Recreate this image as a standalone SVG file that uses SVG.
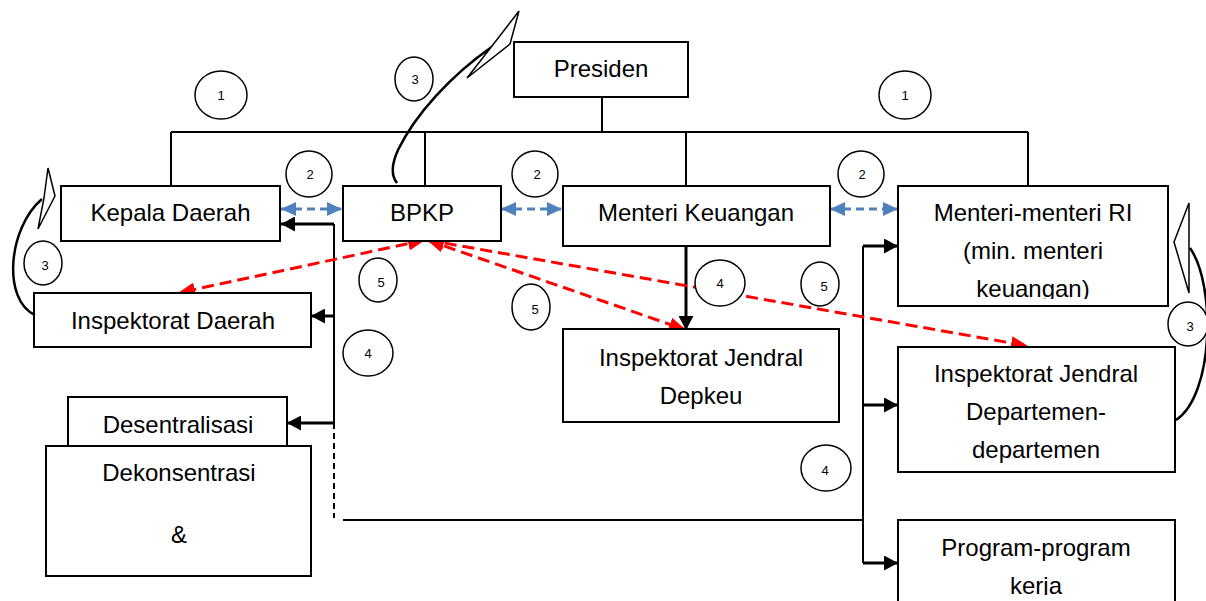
<svg xmlns="http://www.w3.org/2000/svg" width="1206" height="601" viewBox="0 0 1206 601">
<style>
.box{fill:#fff;stroke:#000;stroke-width:2}
.lbl{font-family:"Liberation Sans",Arial,sans-serif;font-size:24px;fill:#000;text-anchor:middle}
.num{font-family:"Liberation Sans",Arial,sans-serif;font-size:13px;fill:#000;text-anchor:middle}
.circ{fill:#fff;stroke:#000;stroke-width:1.5}
.org{fill:none;stroke:#000;stroke-width:2}
.blk{fill:none;stroke:#000;stroke-width:3}
.blue{fill:none;stroke:#4f81bd;stroke-width:3;stroke-dasharray:8 5}
.red{fill:none;stroke:#ff0000;stroke-width:3;stroke-dasharray:12 6}
.crv{fill:none;stroke:#000;stroke-width:2.5}
.head{fill:#fff;stroke:#000;stroke-width:1.5;stroke-linejoin:miter}
</style>
<defs>
<marker id="mb" markerUnits="userSpaceOnUse" markerWidth="15" markerHeight="15" refX="14" refY="7.5" orient="auto"><path d="M0,0 L14,7.5 L0,15 z" fill="#000"/></marker>
<marker id="mblue" markerUnits="userSpaceOnUse" markerWidth="16" markerHeight="14" refX="15" refY="7" orient="auto-start-reverse"><path d="M0,0 L15,7 L0,14 z" fill="#4f81bd"/></marker>
<marker id="mred" markerUnits="userSpaceOnUse" markerWidth="18" markerHeight="14" refX="17" refY="7" orient="auto-start-reverse"><path d="M0,0 L17,7 L0,14 z" fill="#ff0000"/></marker>
<clipPath id="clipMRI"><rect x="898" y="186" width="270" height="113"/></clipPath>
<clipPath id="clipProg"><rect x="898" y="520" width="277" height="75"/></clipPath>
</defs>

<g id="connectors">
<path class="org" d="M602 97 V132 M171 132 H1028 M171 132 V186 M425 132 V186 M686 132 V186 M1028 132 V186"/>
<path class="org" d="M334 224 V423"/>
<path class="org" d="M334 423 V518" stroke-dasharray="6 4"/>
<path class="org" d="M343 520 H863 M863 246 V563"/>
<line class="blk" x1="334" y1="224" x2="281" y2="224" marker-end="url(#mb)"/>
<line class="blk" x1="334" y1="316" x2="311" y2="316" marker-end="url(#mb)"/>
<line class="blk" x1="334" y1="423" x2="287" y2="423" marker-end="url(#mb)"/>
<line class="blk" x1="863" y1="246" x2="898" y2="246" marker-end="url(#mb)"/>
<line class="blk" x1="863" y1="405" x2="898" y2="405" marker-end="url(#mb)"/>
<line class="blk" x1="863" y1="563" x2="898" y2="563" marker-end="url(#mb)"/>
<line class="blk" x1="686" y1="246" x2="686" y2="330" marker-end="url(#mb)"/>
<line class="blue" x1="281" y1="209" x2="342" y2="209" marker-start="url(#mblue)" marker-end="url(#mblue)"/>
<line class="blue" x1="501" y1="209" x2="562" y2="209" marker-start="url(#mblue)" marker-end="url(#mblue)"/>
<line class="blue" x1="830" y1="209" x2="898" y2="209" marker-start="url(#mblue)" marker-end="url(#mblue)"/>
<line class="red" x1="425" y1="240" x2="178" y2="293" marker-start="url(#mred)" marker-end="url(#mred)"/>
<line class="red" x1="427" y1="240" x2="686" y2="330" marker-start="url(#mred)" marker-end="url(#mred)"/>
<line class="red" x1="427" y1="240" x2="1028" y2="346" marker-start="url(#mred)" marker-end="url(#mred)"/>
</g>

<g id="presiden"><rect class="box" x="514" y="42" width="174" height="55"/><text class="lbl" x="601" y="77">Presiden</text></g>
<g id="kepala-daerah"><rect class="box" x="61" y="186" width="219" height="55"/><text class="lbl" x="170.5" y="221">Kepala Daerah</text></g>
<g id="bpkp"><rect class="box" x="343" y="186" width="158" height="55"/><text class="lbl" x="422" y="221">BPKP</text></g>
<g id="menteri-keuangan"><rect class="box" x="563" y="186" width="267" height="60"/><text class="lbl" x="696" y="221">Menteri Keuangan</text></g>
<g id="menteri-menteri-ri"><rect class="box" x="898" y="186" width="270" height="120"/>
<g clip-path="url(#clipMRI)"><text class="lbl" x="1033" y="221">Menteri-menteri RI</text><text class="lbl" x="1033" y="259">(min. menteri</text><text class="lbl" x="1033" y="297">keuangan)</text></g></g>
<g id="inspektorat-daerah"><rect class="box" x="34" y="293" width="277" height="54"/><text class="lbl" x="173" y="329">Inspektorat Daerah</text></g>
<g id="dekonsentrasi"><rect class="box" x="46" y="446" width="265" height="130"/><text class="lbl" x="179" y="481">Dekonsentrasi</text><text class="lbl" x="179" y="543">&amp;</text></g>
<g id="desentralisasi"><rect class="box" x="68" y="397" width="219" height="49"/><text class="lbl" x="178" y="433">Desentralisasi</text></g>
<g id="inspektorat-jendral-depkeu"><rect class="box" x="563" y="329" width="276" height="93"/><text class="lbl" x="701" y="366">Inspektorat Jendral</text><text class="lbl" x="701" y="404">Depkeu</text></g>
<g id="inspektorat-jendral-departemen"><rect class="box" x="898" y="347" width="277" height="125"/><text class="lbl" x="1036" y="382">Inspektorat Jendral</text><text class="lbl" x="1036" y="420">Departemen-</text><text class="lbl" x="1036" y="458">departemen</text></g>
<g id="program-kerja"><rect class="box" x="898" y="520" width="277" height="90"/>
<g clip-path="url(#clipProg)"><text class="lbl" x="1036" y="556">Program-program</text><text class="lbl" x="1036" y="594">kerja</text></g></g>

<g id="labels">
<g><ellipse class="circ" cx="221" cy="95" rx="26" ry="24"/><text class="num" x="221" y="100">1</text></g>
<g><ellipse class="circ" cx="905" cy="95" rx="26" ry="24"/><text class="num" x="905" y="100">1</text></g>
<g><ellipse class="circ" cx="414" cy="79" rx="19" ry="22"/><text class="num" x="415" y="84">3</text></g>
<g><ellipse class="circ" cx="309" cy="174" rx="23" ry="23"/><text class="num" x="310" y="179">2</text></g>
<g><ellipse class="circ" cx="535" cy="174" rx="23" ry="23"/><text class="num" x="537" y="179">2</text></g>
<g><ellipse class="circ" cx="861" cy="174" rx="23" ry="23"/><text class="num" x="862" y="179">2</text></g>
<g><ellipse class="circ" cx="43" cy="263" rx="19" ry="22"/><text class="num" x="45" y="270">3</text></g>
<g><ellipse class="circ" cx="378" cy="280" rx="19" ry="22"/><text class="num" x="381" y="287">5</text></g>
<g><ellipse class="circ" cx="531" cy="307" rx="19" ry="23"/><text class="num" x="535" y="314">5</text></g>
<g><ellipse class="circ" cx="720" cy="283" rx="25" ry="23"/><text class="num" x="720" y="288">4</text></g>
<g><ellipse class="circ" cx="820" cy="284" rx="19" ry="22"/><text class="num" x="824" y="291">5</text></g>
<g><ellipse class="circ" cx="368" cy="353" rx="25" ry="23"/><text class="num" x="368" y="358">4</text></g>
<g><ellipse class="circ" cx="826" cy="468" rx="25" ry="23"/><text class="num" x="825" y="475">4</text></g>
<g><ellipse class="circ" cx="1188" cy="324" rx="20" ry="22"/><text class="num" x="1190" y="331">3</text></g>
</g>

<g id="curved-arrows">
<path class="crv" d="M397 183 Q388 172 398 150 C415 115 450 76 493 46"/>
<polygon class="head" points="519,11 510,44 467,78 492,46"/>
<path class="crv" d="M42 199 C8 228 2 300 35 315"/>
<polygon class="head" points="48,168 55,196 38,229 44,198"/>
<path class="crv" d="M1190 248 C1216 285 1214 395 1176 420"/>
<polygon class="head" points="1189,203 1174,242 1189,293"/>
</g>
</svg>
